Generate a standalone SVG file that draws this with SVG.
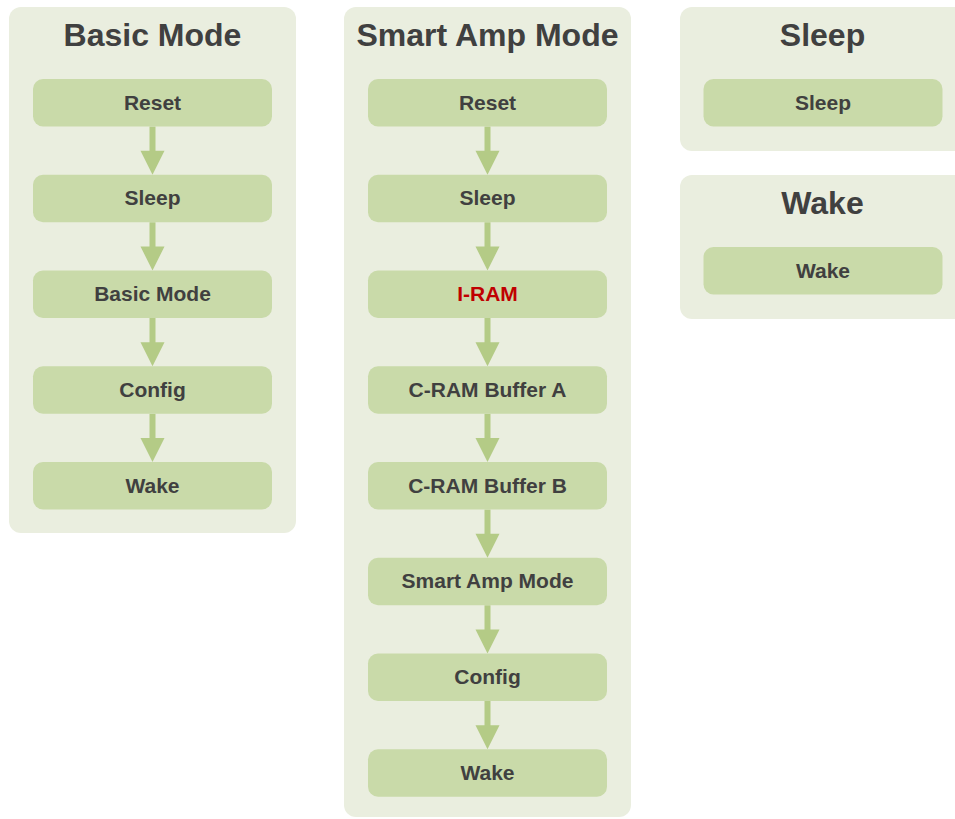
<svg xmlns="http://www.w3.org/2000/svg" width="955" height="819" viewBox="0 0 955 819">
<style>
.cont{fill:#EAEEDF}
.node{fill:#C9DAA9}
.title{font-family:"Liberation Sans",Arial,sans-serif;font-weight:bold;font-size:32px;fill:#404040;text-anchor:middle}
.lbl{font-family:"Liberation Sans",Arial,sans-serif;font-weight:bold;font-size:21px;fill:#404040;text-anchor:middle}
.red{fill:#C00000}
.arr{fill:#B4CB86}
</style>
<rect width="955" height="819" fill="#FFFFFF"/>
<g id="basic-mode">
<rect class="cont" x="9" y="7" width="287" height="526" rx="12"/>
<text class="title" x="152.5" y="46">Basic Mode</text>
</g>
<g id="smart-amp-mode">
<rect class="cont" x="344" y="7" width="287" height="810" rx="12"/>
<text class="title" x="487.5" y="46">Smart Amp Mode</text>
</g>
<g id="sleep-group">
<rect class="cont" x="680" y="7" width="287" height="144" rx="12"/>
<text class="title" x="822.5" y="46">Sleep</text>
</g>
<g id="wake-group">
<rect class="cont" x="680" y="175" width="287" height="144" rx="12"/>
<text class="title" x="822.5" y="214">Wake</text>
</g>
<g id="connectors">
<path class="arr" d="M149.5 126.5H155.5V150.75H164.5L152.5 174.75L140.5 150.75H149.5Z"/>
<path class="arr" d="M149.5 222.25H155.5V246.5H164.5L152.5 270.5L140.5 246.5H149.5Z"/>
<path class="arr" d="M149.5 318H155.5V342.25H164.5L152.5 366.25L140.5 342.25H149.5Z"/>
<path class="arr" d="M149.5 413.75H155.5V438H164.5L152.5 462L140.5 438H149.5Z"/>
<path class="arr" d="M484.5 126.5H490.5V150.75H499.5L487.5 174.75L475.5 150.75H484.5Z"/>
<path class="arr" d="M484.5 222.25H490.5V246.5H499.5L487.5 270.5L475.5 246.5H484.5Z"/>
<path class="arr" d="M484.5 318H490.5V342.25H499.5L487.5 366.25L475.5 342.25H484.5Z"/>
<path class="arr" d="M484.5 413.75H490.5V438H499.5L487.5 462L475.5 438H484.5Z"/>
<path class="arr" d="M484.5 509.5H490.5V533.75H499.5L487.5 557.75L475.5 533.75H484.5Z"/>
<path class="arr" d="M484.5 605.25H490.5V629.5H499.5L487.5 653.5L475.5 629.5H484.5Z"/>
<path class="arr" d="M484.5 701H490.5V725.25H499.5L487.5 749.25L475.5 725.25H484.5Z"/>
</g>
<g id="b-reset"><rect class="node" x="33" y="79" width="239" height="47.5" rx="10"/><text class="lbl" x="152.5" y="109.5">Reset</text></g>
<g id="b-sleep"><rect class="node" x="33" y="174.75" width="239" height="47.5" rx="10"/><text class="lbl" x="152.5" y="205.25">Sleep</text></g>
<g id="b-basic"><rect class="node" x="33" y="270.5" width="239" height="47.5" rx="10"/><text class="lbl" x="152.5" y="301">Basic Mode</text></g>
<g id="b-config"><rect class="node" x="33" y="366.25" width="239" height="47.5" rx="10"/><text class="lbl" x="152.5" y="396.75">Config</text></g>
<g id="b-wake"><rect class="node" x="33" y="462" width="239" height="47.5" rx="10"/><text class="lbl" x="152.5" y="492.5">Wake</text></g>
<g id="s-reset"><rect class="node" x="368" y="79" width="239" height="47.5" rx="10"/><text class="lbl" x="487.5" y="109.5">Reset</text></g>
<g id="s-sleep"><rect class="node" x="368" y="174.75" width="239" height="47.5" rx="10"/><text class="lbl" x="487.5" y="205.25">Sleep</text></g>
<g id="s-iram"><rect class="node" x="368" y="270.5" width="239" height="47.5" rx="10"/><text class="lbl red" x="487.5" y="301">I-RAM</text></g>
<g id="s-cram-a"><rect class="node" x="368" y="366.25" width="239" height="47.5" rx="10"/><text class="lbl" x="487.5" y="396.75">C-RAM Buffer A</text></g>
<g id="s-cram-b"><rect class="node" x="368" y="462" width="239" height="47.5" rx="10"/><text class="lbl" x="487.5" y="492.5">C-RAM Buffer B</text></g>
<g id="s-smart"><rect class="node" x="368" y="557.75" width="239" height="47.5" rx="10"/><text class="lbl" x="487.5" y="588.25">Smart Amp Mode</text></g>
<g id="s-config"><rect class="node" x="368" y="653.5" width="239" height="47.5" rx="10"/><text class="lbl" x="487.5" y="684">Config</text></g>
<g id="s-wake"><rect class="node" x="368" y="749.25" width="239" height="47.5" rx="10"/><text class="lbl" x="487.5" y="779.75">Wake</text></g>
<g id="sleep-node"><rect class="node" x="703.5" y="79" width="239" height="47.5" rx="10"/><text class="lbl" x="823" y="109.5">Sleep</text></g>
<g id="wake-node"><rect class="node" x="703.5" y="247" width="239" height="47.5" rx="10"/><text class="lbl" x="823" y="277.5">Wake</text></g>
</svg>
